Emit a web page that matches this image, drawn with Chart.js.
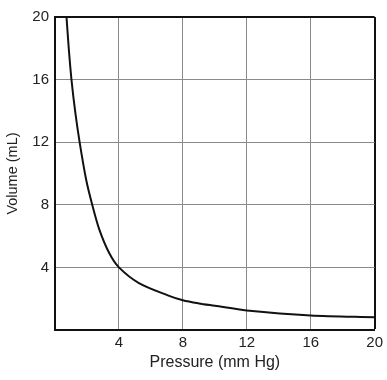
<!DOCTYPE html>
<html>
<head>
<meta charset="utf-8">
<script src="https://cdn.jsdelivr.net/npm/chart.js@4"></script>
<style>
    html, body { margin: 0; padding: 0; background: #fff; }
    #wrap { width: 387px; height: 380px; }
</style>
</head>
<body>
<div id="wrap"><canvas id="chart" width="387" height="380"></canvas></div>
<script>
// values
const pressure = [0.72, 0.86, 1.03, 1.27, 1.54, 1.95, 2.33, 2.78, 3.4, 4.0, 5.25, 7.1, 8, 9, 10, 12, 16, 20];
const volume   = [20, 18, 16, 13.9, 12, 9.6, 8, 6.4, 4.9, 4.0, 3.0, 2.2, 1.9, 1.7, 1.55, 1.25, 0.93, 0.82];
const xTicks = [4, 8, 12, 16, 20];
const yTicks = [4, 8, 12, 16, 20];

const points = pressure.map((p, i) => ({ x: p, y: volume[i] }));

const font = { family: "'Liberation Sans', Arial, sans-serif", size: 15 };

// edge grid lines double as the thick frame
function gridColor(ctx) {
    return ctx.tick && ctx.tick.value === 20 ? "#111" : "#8a8a8a";
}
function gridWidth(ctx) {
    return ctx.tick && ctx.tick.value === 20 ? 2 : 1;
}

new Chart(document.getElementById("chart").getContext("2d"), {
    type: "line",
    data: {
        datasets: [{
            data: points,
            borderColor: "#111",
            borderWidth: 2,
            pointRadius: 0,
            fill: false,
            tension: 0.3
        }]
    },
    options: {
        responsive: false,
        animation: false,
        layout: { padding: { left: 0, right: 9, top: 17, bottom: 8 } },
        plugins: { legend: { display: false }, tooltip: { enabled: false } },
        scales: {
            x: {
                type: "linear",
                min: 0,
                max: 20,
                afterBuildTicks: axis => { axis.ticks = [0].concat(xTicks).map(v => ({ value: v })); },
                afterFit: axis => { axis.height = 42; },
                ticks: {
                    color: "#222",
                    font: font,
                    padding: 4,
                    maxRotation: 0,
                    callback: v => (v === 0 ? "" : String(v))
                },
                grid: { color: gridColor, lineWidth: gridWidth, drawTicks: false },
                border: { color: "#111", width: 2 },
                title: {
                    display: true,
                    text: "Pressure (mm Hg)",
                    color: "#222",
                    font: { family: font.family, size: 16 },
                    padding: { top: 0, bottom: 0 }
                }
            },
            y: {
                type: "linear",
                min: 0,
                max: 20,
                afterBuildTicks: axis => { axis.ticks = [0].concat(yTicks).map(v => ({ value: v })); },
                afterFit: axis => { axis.width = 55; },
                ticks: {
                    color: "#222",
                    font: font,
                    padding: 6,
                    callback: v => (v === 0 ? "" : String(v))
                },
                grid: { color: gridColor, lineWidth: gridWidth, drawTicks: false },
                border: { color: "#111", width: 2 },
                title: {
                    display: true,
                    text: "Volume (mL)",
                    color: "#222",
                    font: { family: font.family, size: 14.5 },
                    padding: { top: 4, bottom: 0 }
                }
            }
        }
    }
});
</script>
</body>
</html>
